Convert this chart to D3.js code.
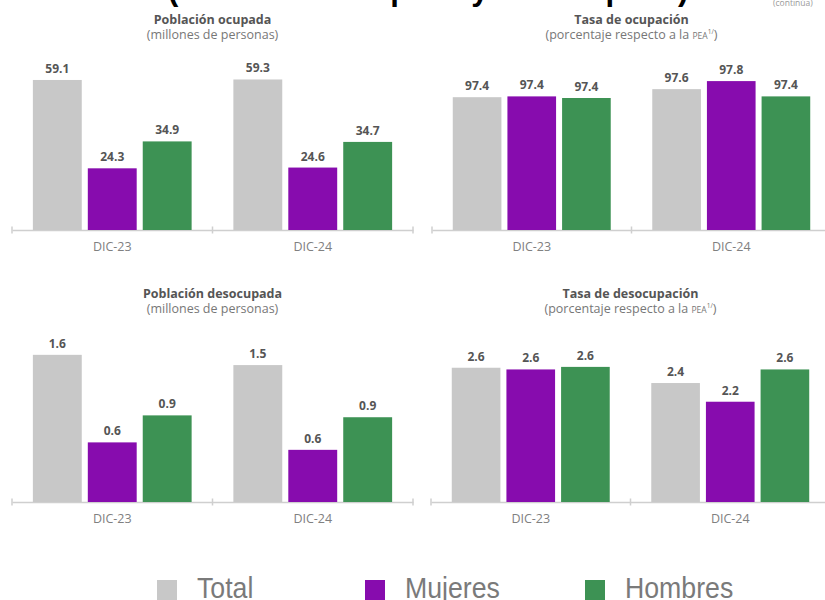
<!DOCTYPE html>
<html>
<head>
<meta charset="utf-8">
<script src="https://cdn.jsdelivr.net/npm/d3@7"></script>
<style>
  html, body { margin: 0; padding: 0; background: #ffffff; overflow: hidden; }
  svg { display: block; }
</style>
</head>
<body>
<script>
// ---------- DATA ----------
const categories = ["DIC-23", "DIC-24"];
const seriesNames = ["Total", "Mujeres", "Hombres"];

// rows follow seriesNames (Total, Mujeres, Hombres); columns follow categories
const poblacionOcupada    = [[59.1, 59.3], [24.3, 24.6], [34.9, 34.7]];
const tasaOcupacion       = [[97.40, 97.60], [97.42, 97.80], [97.38, 97.42]];
const poblacionDesocupada = [[1.58, 1.47], [0.64, 0.56], [0.93, 0.91]];
const tasaDesocupacion    = [[2.60, 2.42], [2.58, 2.20], [2.61, 2.58]];

const panelTitles = ["Población ocupada", "Tasa de ocupación", "Población desocupada", "Tasa de desocupación"];
const panelSubtitles = ["(millones de personas)", "(porcentaje respecto a la ", "(millones de personas)", "(porcentaje respecto a la "];
const headerText = "(Población ocupada y desocupada)";
const continuaText = "(continúa)";

// ---------- STYLE / LAYOUT ----------
const colors = d3.scaleOrdinal().domain(seriesNames).range(["#c8c8c8", "#870cae", "#3d9254"]);
const W = 825, H = 600;
const fontMain = "'Open Sans', 'Noto Sans', sans-serif";

const panels = [
  { values: poblacionOcupada,    pea: false, x0: 12,  x1: 413, base: 230, top: 65,  domain: [0, 65],       titleY: 24,  subY: 39 },
  { values: tasaOcupacion,       pea: true,  x0: 432, x1: 831, base: 230, top: 65,  domain: [94.1, 98.2],  titleY: 24,  subY: 39 },
  { values: poblacionDesocupada, pea: false, x0: 12,  x1: 413, base: 502, top: 339, domain: [0, 1.75],     titleY: 298, subY: 313 },
  { values: tasaDesocupacion,    pea: true,  x0: 431, x1: 830, base: 502, top: 338, domain: [1.02, 2.95],  titleY: 298, subY: 313 }
];

const svg = d3.select("body").append("svg").attr("width", W).attr("height", H);
svg.append("rect").attr("width", W).attr("height", H).attr("fill", "#fff");

// cut-off header at the very top (only the descenders show)
svg.append("g")
  .attr("transform", "translate(168,-0.5)")
  .append("text")
  .attr("x", 0).attr("y", 0)
  .attr("font-family", "'Liberation Sans', Arial, sans-serif")
  .attr("font-weight", "bold").attr("font-size", 31)
  .attr("fill", "#000")
  .text(headerText);

svg.append("text")
  .attr("x", 773).attr("y", 6)
  .attr("font-family", fontMain).attr("font-size", 8.5)
  .attr("fill", "#9a9a9a")
  .text(continuaText);

const fmt = d3.format(".1f");

panels.forEach((p, pi) => {
  const g = svg.append("g");
  const x0 = d3.scaleBand().domain(categories).range([p.x0, p.x1]);
  const x1 = d3.scaleBand().domain(seriesNames).range([0, x0.bandwidth()])
    .paddingInner(0.11).paddingOuter(0.38);
  const y = d3.scaleLinear().domain(p.domain).range([p.base, p.top]);
  const cx = (p.x0 + p.x1) / 2;

  // titles
  g.append("text")
    .attr("x", cx).attr("y", p.titleY)
    .attr("text-anchor", "middle")
    .attr("font-family", fontMain).attr("font-weight", "bold").attr("font-size", 12.5)
    .attr("fill", "#555")
    .text(panelTitles[pi]);

  const sub = g.append("text")
    .attr("x", cx).attr("y", p.subY)
    .attr("text-anchor", "middle")
    .attr("font-family", fontMain).attr("font-size", 12.5)
    .attr("fill", "#777");
  sub.append("tspan").text(panelSubtitles[pi]);
  if (p.pea) {
    sub.append("tspan").attr("font-size", 8.5).text("PEA");
    sub.append("tspan").attr("font-size", 6.5).attr("dy", -5).text("1/");
    sub.append("tspan").attr("dy", 5).text(")");
  }

  // axis
  const axis = g.append("g")
    .attr("transform", `translate(0,${p.base})`)
    .call(d3.axisBottom(x0).tickSize(0).tickSizeOuter(0).tickPadding(12));
  axis.select(".domain").attr("stroke", "#cfcfcf").attr("stroke-width", 1.5);
  axis.selectAll(".tick text")
    .attr("font-family", fontMain).attr("font-size", 12.5).attr("fill", "#808080");

  const boundaries = categories.map(c => x0(c)).concat([x0(categories[categories.length - 1]) + x0.bandwidth()]);
  axis.selectAll(".bnd").data(boundaries).join("line")
    .attr("class", "bnd")
    .attr("x1", d => d).attr("x2", d => d)
    .attr("y1", -3.5).attr("y2", 3.5)
    .attr("stroke", "#cfcfcf").attr("stroke-width", 1.5);

  // bars
  const rows = [];
  categories.forEach((c, ci) => {
    seriesNames.forEach((s, si) => rows.push({ c, s, v: p.values[si][ci] }));
  });

  g.selectAll(".bar").data(rows).join("rect")
    .attr("class", "bar")
    .attr("x", d => x0(d.c) + x1(d.s))
    .attr("y", d => y(d.v))
    .attr("width", x1.bandwidth())
    .attr("height", d => p.base - y(d.v))
    .attr("fill", d => colors(d.s));

  g.selectAll(".lbl").data(rows).join("text")
    .attr("class", "lbl")
    .attr("x", d => x0(d.c) + x1(d.s) + x1.bandwidth() / 2)
    .attr("y", d => y(d.v) - 7)
    .attr("text-anchor", "middle")
    .attr("font-family", fontMain).attr("font-weight", "bold").attr("font-size", 12)
    .attr("fill", "#555")
    .text(d => fmt(d.v));
});

// legend
const legendX = [157, 365, 585];
const leg = svg.append("g");
seriesNames.forEach((s, i) => {
  leg.append("rect")
    .attr("x", legendX[i]).attr("y", 580)
    .attr("width", 20).attr("height", 22)
    .attr("fill", colors(s));
  leg.append("text")
    .attr("transform", `translate(${legendX[i] + 40},598) scale(0.89,1)`)
    .attr("font-family", "'Liberation Sans', Arial, sans-serif")
    .attr("font-size", 30)
    .attr("fill", "#7a7a7a")
    .text(s);
});
</script>
</body>
</html>
